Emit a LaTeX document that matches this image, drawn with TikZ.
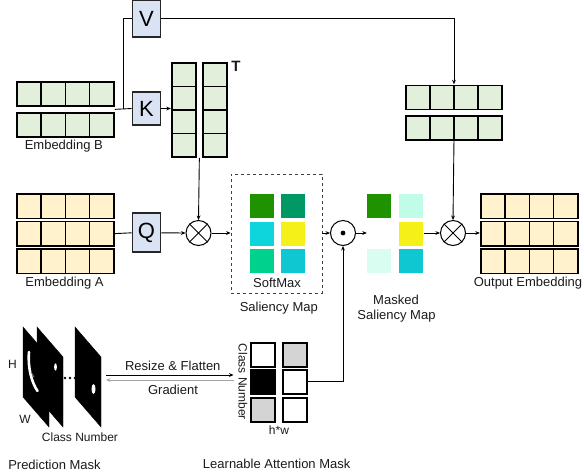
\documentclass[tikz,border=0pt]{standalone}
\usepackage{fontspec}
\setmainfont{Liberation Sans}
\usetikzlibrary{arrows.meta,fit,calc}
\definecolor{cg}{HTML}{E2EFDA}
\definecolor{cy}{HTML}{FFF2CC}
\definecolor{cb}{HTML}{DAE3F3}
\definecolor{txt}{HTML}{1A1A1A}
\definecolor{sa}{HTML}{1F9200}
\definecolor{sb}{HTML}{009966}
\definecolor{sc}{HTML}{0ED4DC}
\definecolor{sd}{HTML}{F5F018}
\definecolor{se}{HTML}{00D18C}
\definecolor{sf}{HTML}{0EC7D0}
\definecolor{mb}{HTML}{C0FCE8}
\definecolor{me}{HTML}{D9FDF1}
\definecolor{lg}{HTML}{D4D4D4}
\definecolor{gr}{HTML}{A6A6A6}
\begin{document}
\begin{tikzpicture}[x=1pt,y=-1pt,
  cell/.style={draw=black, line width=1.7pt, inner sep=0, minimum width=24.25pt, minimum height=24pt, anchor=north west},
  vcell/.style={draw=black, line width=1.7pt, inner sep=0, minimum width=24pt, minimum height=23.5pt, anchor=north west},
  scell/.style={inner sep=0, minimum size=24pt, anchor=north west},
  mcell/.style={draw=black, line width=1.7pt, inner sep=0, minimum size=24pt, anchor=north west},
  op/.style={draw=black!85, line width=1.8pt, fill=cb, inner sep=0, minimum width=28pt, font=\fontsize{22}{22}\selectfont},
  lbl/.style={text=txt, font=\fontsize{13}{15}\selectfont, inner sep=0, anchor=base},
  slbl/.style={text=txt, font=\fontsize{12}{14}\selectfont, inner sep=0, anchor=base},
  grp/.style={inner sep=0, draw=none},
  ln/.style={line width=0.9pt},
  arr/.style={-{Stealth[length=4.5pt,width=3.8pt]}, line width=0.9pt},
  circ/.style={circle, draw=black, line width=1pt, fill=white, minimum size=25pt, inner sep=0},
  sheet/.style={fill=black}
]
\useasboundingbox (0,0) rectangle (584,475);

% ---------- Embedding B ----------
\foreach \r/\y in {1/81,2/112}
  \foreach \c in {0,...,3}
    \node[cell,fill=cg] (B\r\c) at ({16+\c*24.25},\y) {};
\node[grp, fit=(B10)(B23)] (embB) {};
\node[lbl] (labB) at (63.8,149.5) {Embedding B};

% ---------- Q K V ----------
\node[op, minimum height=37pt] (V) at (146.5,18.5) {V};
\node[op, minimum height=33pt] (K) at (146.5,108.5) {K};
\node[op, minimum height=39pt] (Q) at (146.5,232.8) {Q};

% ---------- K^T columns ----------
\foreach \c/\x in {1/171,2/202}
  \foreach \r in {0,...,3}
    \node[vcell,fill=cg] (T\c\r) at (\x,{62+\r*23.5}) {};
\node[grp, fit=(T10)(T23)] (kT) {};
\node[text=txt, font=\fontsize{15}{15}\selectfont\bfseries, inner sep=0, anchor=base] (Tlab) at (236,71.5) {T};

% ---------- V output ----------
\foreach \r/\y in {1/84.5,2/115}
  \foreach \c in {0,...,3}
    \node[cell,fill=cg] (VO\r\c) at ({405+\c*24},\y) {};
\node[grp, fit=(VO10)(VO23)] (vout) {};

% ---------- Embedding A ----------
\foreach \r/\y in {1/193,2/220.5,3/248}
  \foreach \c in {0,...,3}
    \node[cell,fill=cy,minimum height=24.5pt] (A\r\c) at ({16+\c*24.25},\y) {};
\node[grp, fit=(A10)(A33)] (embA) {};
\node[lbl] (labA) at (64.5,286.6) {Embedding A};

% ---------- Output embedding ----------
\foreach \r/\y in {1/193,2/220.5,3/248}
  \foreach \c in {0,...,3}
    \node[cell,fill=cy,minimum height=24.5pt] (O\r\c) at ({480+\c*24.25},\y) {};
\node[grp, fit=(O10)(O33)] (out) {};
\node[lbl] (labO) at (528,286.6) {Output Embedding};

% ---------- operators ----------
\node[circ] (mul1) at (198.5,233) {};
\draw[ln] (mul1.45) -- (mul1.225) (mul1.135) -- (mul1.315);
\node[circ] (dot) at (343,233) {};
\fill (dot) circle (2.4);
\node[circ] (mul2) at (453,233) {};
\draw[ln] (mul2.45) -- (mul2.225) (mul2.135) -- (mul2.315);

% ---------- Saliency map ----------
\node[draw=black!75, dashed, line width=0.8pt, minimum width=91pt, minimum height=119pt, inner sep=0] (sal) at (276.5,233.5) {};
\node[scell,fill=sa] (S11) at (250,194) {};
\node[scell,fill=sb] (S12) at (281,194) {};
\node[scell,fill=sc] (S21) at (250,222) {};
\node[scell,fill=sd] (S22) at (281,222) {};
\node[scell,fill=se] (S31) at (250,249) {};
\node[scell,fill=sf] (S32) at (281,249) {};
\node[lbl] (labSM) at (277,287.6) {SoftMax};
\node[lbl] (labS) at (278.8,311) {Saliency Map};

% ---------- Masked saliency map ----------
\node[scell,fill=sa] (M11) at (367,194) {};
\node[scell,fill=mb] (M12) at (399,194) {};
\node[scell] (M21) at (367,222) {};
\node[scell,fill=sd] (M22) at (399,222) {};
\node[scell,fill=me] (M31) at (367,249) {};
\node[scell,fill=sf] (M32) at (399,249) {};
\node[grp, fit=(M11)(M32)] (msk) {};
\node[lbl] (labM1) at (396,304.3) {Masked};
\node[lbl] (labM2) at (396.5,319.3) {Saliency Map};

% ---------- Learnable attention mask ----------
\node[mcell] (L10) at (250,342) {};
\node[mcell,fill=lg] (L11) at (282,342) {};
\node[mcell,fill=black] (L20) at (250,369) {};
\node[mcell] (L21) at (282,369) {};
\node[mcell,fill=lg] (L30) at (250,397) {};
\node[mcell] (L31) at (282,397) {};
\node[grp, fit=(L10)(L31)] (lam) {};
\node[slbl, rotate=-90, anchor=center] (labCN) at (242.8,381.7) {Class Number};
\node[slbl] (labHW) at (279,434.8) {h*w};
\node[lbl] (labL) at (276.7,468.6) {Learnable Attention Mask};

% ---------- Prediction mask ----------
\foreach \x/\n in {23/1,37/2}
  \filldraw[sheet] (\x,327) -- ++(26,30) -- ++(0,70) -- ++(-26,-30) -- cycle;
\foreach \x in {65,70,75}
  \fill (\x,378) circle (1.4);
\filldraw[sheet] (75,327) -- ++(26,30) -- ++(0,70) -- ++(-26,-30) -- cycle;
\draw[white, line width=2.6pt, line cap=round] (29,352) .. controls (27.5,368) and (32,383) .. (37.5,391);
\draw[gray, line width=0.8pt] (31,372) -- (34,377);
\fill[white] (55.5,367) ellipse (1.4 and 3.6);
\fill[white] (93.5,389) ellipse (2 and 5);
\node[slbl] (labH) at (12.5,368.6) {H};
\node[slbl] (labW) at (25,423.6) {W};
\node[slbl] (labPC) at (80,441.3) {Class Number};
\node[lbl] (labP) at (54.5,469.3) {Prediction Mask};

\coordinate (pmR) at (106,377.5);
\coordinate (lamL) at (233.5,377.5);
\draw[arr] (pmR |- 0,375) -- (lamL |- 0,375);
\draw[arr, draw=gr] (lamL |- 0,380) -- (pmR |- 0,380);
\node[lbl] (labR) at (172.8,370.3) {Resize \& Flatten};
\node[lbl] (labG) at (173,394.3) {Gradient};

% ---------- connectors ----------
\coordinate (jB) at ($(embB.east)!0.5!(K.west)$);
\draw[ln] (embB.east) -- (K.west);
\draw[ln] (jB) |- (V.west);
\draw[arr] (K.east) -- (K.east -| kT.west);
\draw[arr] (V.east) -| (vout.north);
\draw[arr] (kT.south) -- (mul1.north);
\draw[ln] (embA.east) -- (Q.west);
\draw[arr] (Q.east) -- (mul1.west);
\draw[arr] (mul1.east) -- (mul1.east -| sal.west);
\draw[arr] (dot.west -| sal.east) -- (dot.west);
\draw[arr] (dot.east) -- (dot.east -| msk.west);
\draw[arr] (mul2.west -| msk.east) -- (mul2.west);
\draw[arr] (vout.south) -- (mul2.north);
\draw[arr] (mul2.east) -- (mul2.east -| out.west);
\draw[arr] (L21.east) -| (dot.south);
\end{tikzpicture}
\end{document}
